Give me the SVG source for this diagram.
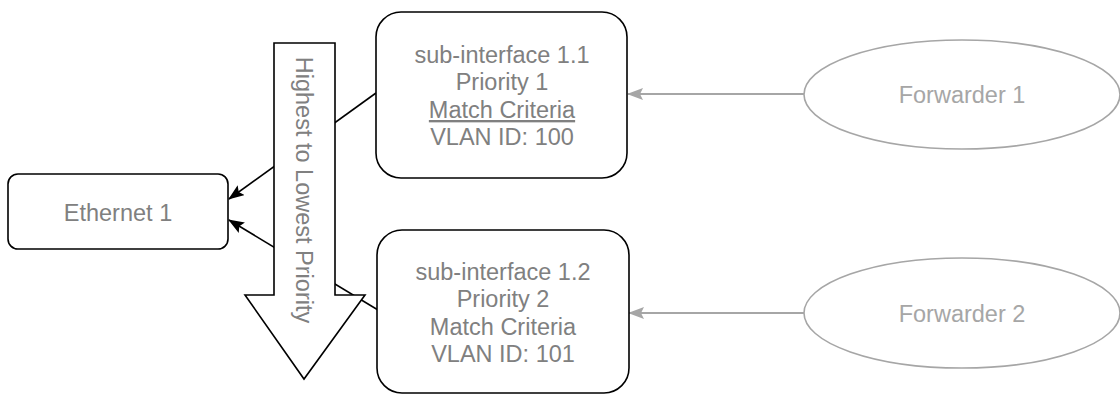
<svg xmlns="http://www.w3.org/2000/svg" width="1120" height="394" viewBox="0 0 1120 394">
<defs>
<style>
text{font-family:"Liberation Sans",Arial,sans-serif;font-size:23.5px;text-anchor:middle}
.dark{fill:#808080}
.light{fill:#a6a6a6}
.box{fill:#fff;stroke:#000;stroke-width:1.6}
.ell{fill:#fff;stroke:#a6a6a6;stroke-width:1.6}
.blk{stroke:#000;stroke-width:1.6;fill:none}
.gry{stroke:#a6a6a6;stroke-width:1.8;fill:none}
</style>
<marker id="ab" viewBox="0 0 16 12" refX="15" refY="6" markerWidth="16" markerHeight="12" markerUnits="userSpaceOnUse" orient="auto"><path d="M0,0 L16,6 L0,12 L3,6 Z" fill="#000"/></marker>
<marker id="ag" viewBox="0 0 16 12" refX="15" refY="6" markerWidth="16" markerHeight="12" markerUnits="userSpaceOnUse" orient="auto"><path d="M0,0 L16,6 L0,12 L3,6 Z" fill="#a6a6a6"/></marker>
</defs>
<g id="connectors">
<line class="blk" x1="376" y1="93" x2="229" y2="199" marker-end="url(#ab)"/>
<line class="blk" x1="378" y1="310" x2="229" y2="220" marker-end="url(#ab)"/>
<line class="gry" x1="804" y1="94" x2="628" y2="94" marker-end="url(#ag)"/>
<line class="gry" x1="804" y1="313" x2="629" y2="313" marker-end="url(#ag)"/>
</g>
<g id="priority-arrow">
<path class="box" d="M274,43 L335,43 L335,295 L365,295 L304,379 L245,295 L274,295 Z"/>
<text class="dark" transform="translate(296,190) rotate(90)">Highest to Lowest Priority</text>
</g>
<g id="ethernet1">
<rect class="box" x="8" y="174" width="220" height="75" rx="10"/>
<text class="dark" x="118" y="221">Ethernet 1</text>
</g>
<g id="sub11">
<rect class="box" x="376" y="12" width="251" height="166" rx="25"/>
<text class="dark" x="502" y="63">sub-interface 1.1</text>
<text class="dark" x="502" y="90">Priority 1</text>
<text class="dark" x="502" y="118" text-decoration="underline">Match Criteria</text>
<text class="dark" x="502" y="145">VLAN ID: 100</text>
</g>
<g id="sub12">
<rect class="box" x="377" y="230" width="252" height="163" rx="25"/>
<text class="dark" x="503" y="280">sub-interface 1.2</text>
<text class="dark" x="503" y="307">Priority 2</text>
<text class="dark" x="503" y="335">Match Criteria</text>
<text class="dark" x="503" y="362">VLAN ID: 101</text>
</g>
<g id="forwarder1">
<ellipse class="ell" cx="962" cy="94.5" rx="158" ry="54.5"/>
<text class="light" x="962" y="103">Forwarder 1</text>
</g>
<g id="forwarder2">
<ellipse class="ell" cx="962" cy="313" rx="158" ry="55"/>
<text class="light" x="962" y="322">Forwarder 2</text>
</g>
</svg>
